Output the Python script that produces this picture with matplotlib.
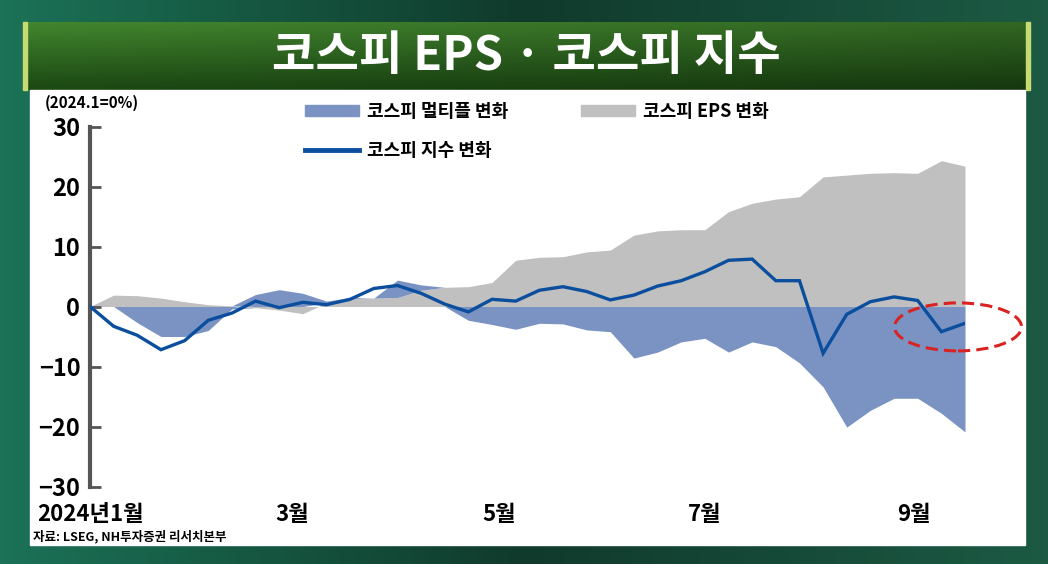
import matplotlib
matplotlib.use('Agg')
import matplotlib.pyplot as plt
import matplotlib.dates as mdates
from matplotlib.patches import Patch, Ellipse, Rectangle
from matplotlib.lines import Line2D
import numpy as np
import pandas as pd

plt.rcParams['font.family'] = ['Noto Sans CJK KR', 'DejaVu Sans']
plt.rcParams['font.weight'] = 'bold'

# weekly readings, 2024.1 = 0%
dates = pd.date_range('2024-01-01', periods=38, freq='7D')
kospi_index = [0, -3.3, -4.8, -7.2, -5.7, -2.3, -1.1, 0.9, -0.2, 0.7,
               0.3, 1.2, 3.0, 3.5, 2.2, 0.4, -0.9, 1.2, 0.9, 2.7,
               3.3, 2.5, 1.1, 1.9, 3.4, 4.3, 5.8, 7.7, 7.9, 4.3,
               4.3, -7.8, -1.3, 0.8, 1.6, 1.0, -4.2, -2.8]
kospi_eps = [0, 1.9, 1.8, 1.4, 0.8, 0.3, 0.1, -0.2, -0.6, -1.2,
             0.6, 1.3, 1.4, 1.5, 2.7, 3.2, 3.3, 4.0, 7.7, 8.2,
             8.3, 9.1, 9.4, 11.9, 12.6, 12.8, 12.8, 15.8, 17.2, 17.9,
             18.3, 21.6, 21.9, 22.2, 22.3, 22.2, 24.3, 23.4]
kospi_multiple = [0, 0, -2.7, -5.0, -5.0, -4.0, -0.4, 2.0, 2.8, 2.2,
                  0.3, 0.2, 0, 2.9, 0.9, 0, -2.3, -3.0, -3.8, -2.8,
                  -2.9, -3.9, -4.2, -8.6, -7.6, -5.9, -5.3, -7.6, -5.9, -6.7,
                  -9.4, -13.4, -20.1, -17.3, -15.3, -15.3, -17.8, -20.9]
month_ticks = ['2024-01-01', '2024-03-01', '2024-05-01', '2024-07-01', '2024-09-01']
month_labels = ['2024년1월', '3월', '5월', '7월', '9월']

W, H = 1048, 564
fig = plt.figure(figsize=(W / 100, H / 100), dpi=100)

# background gradient
bg = fig.add_axes([0, 0, 1, 1], zorder=-10)
gx = np.linspace(0, 1, 300)
left = np.array([0x1b, 0x72, 0x56]) / 255
mid = np.array([0x10, 0x3a, 0x2c]) / 255
right = np.array([0x1c, 0x5a, 0x44]) / 255
row = np.where(gx[:, None] < 0.5,
               left + (mid - left) * (gx[:, None] / 0.5),
               mid + (right - mid) * ((gx[:, None] - 0.5) / 0.5))
bg.imshow(row[None, :, :], aspect='auto', extent=[0, 1, 0, 1])
bg.set_xlim(0, 1)
bg.set_ylim(0, 1)
bg.axis('off')

# title banner
bx0, bx1, by0, by1 = 23 / W, 1030 / W, 1 - 90 / H, 1 - 22 / H
ban = fig.add_axes([bx0, by0, bx1 - bx0, by1 - by0], zorder=-9)
u = np.linspace(0, 1, 200)[None, :, None]
v = np.linspace(0, 1, 60)[:, None, None]
top_c = np.array([0x3f, 0x80, 0x2c]) / 255
bot_c = np.array([0x1a, 0x44, 0x12]) / 255
img = top_c + (bot_c - top_c) * v
img = img * (1.05 - 0.25 * u)
ban.imshow(np.clip(img, 0, 1), aspect='auto', extent=[0, 1, 0, 1])
ban.axis('off')
fig.patches.append(Rectangle((23 / W, by0), 4 / W, by1 - by0, transform=fig.transFigure,
                             color='#c6dc72', zorder=-8))
fig.patches.append(Rectangle((1026 / W, by0), 4 / W, by1 - by0, transform=fig.transFigure,
                             color='#c6dc72', zorder=-8))
fig.text(0.5 * (bx0 + bx1), 1 - 56 / H, '코스피 EPS · 코스피 지수', color='white',
         fontsize=34, fontweight='bold', ha='center', va='center')

# white panel
fig.patches.append(Rectangle((30 / W, 1 - 545 / H), 995 / W, 455 / H, transform=fig.transFigure,
                             color='white', zorder=-8))

ax = fig.add_axes([90 / W, 1 - 486.5 / H, 875 / W, 360 / H])
ax.set_facecolor('none')

eps = np.array(kospi_eps)
mult = np.array(kospi_multiple)
eps_pos, eps_neg = np.clip(eps, 0, None), np.clip(eps, None, 0)
mult_pos, mult_neg = np.clip(mult, 0, None), np.clip(mult, None, 0)

# stacked areas, positive and negative parts stacked separately
ax.fill_between(dates, 0, eps, color='#c0c0c0', linewidth=0, zorder=1)
ax.fill_between(dates, eps_pos, eps_pos + mult_pos, color='#7b93c2', linewidth=0, zorder=2)
ax.fill_between(dates, eps_neg, eps_neg + mult_neg, color='#7b93c2', linewidth=0, zorder=2)
ax.plot(dates, kospi_index, color='#0b4e9e', linewidth=2.4, zorder=3, solid_joinstyle='miter')

ax.set_xlim(dates[0], dates[-1])
ax.set_ylim(-30, 30)
ax.set_yticks([30, 20, 10, 0, -10, -20, -30])
ax.set_yticklabels(['30', '20', '10', '0', '−10', '−20', '−30'])
ax.set_xticks(mdates.date2num(pd.to_datetime(month_ticks)))
ax.set_xticklabels(month_labels)

for s in ['top', 'right', 'bottom']:
    ax.spines[s].set_visible(False)
ax.spines['left'].set_color('#555555')
ax.spines['left'].set_linewidth(3)
ax.tick_params(axis='y', direction='in', length=8, width=2, color='#555555',
               labelsize=17, pad=7)
ax.tick_params(axis='x', length=0, labelsize=16, pad=12)

# red dashed highlight
span = mdates.date2num(dates[-1]) - mdates.date2num(dates[0])
cx = mdates.date2num(dates[0]) + (958 - 90) / 875 * span
wd = 127 / 875 * span
ax.add_patch(Ellipse((cx, -3.4), wd, 8, fill=False, edgecolor='#d92323', linestyle=(0, (4, 2)),
                     linewidth=2.2, clip_on=False, zorder=5))

handles = [Patch(color='#7b93c2'), Line2D([], [], color='#0b4e9e', linewidth=3.5), Patch(color='#c0c0c0')]
labels = ['코스피 멀티플 변화', '코스피 지수 변화', '코스피 EPS 변화']
fig.legend(handles, labels, ncol=2, loc='upper left', bbox_to_anchor=(305 / W, 1 - 102 / H),
           frameon=False, fontsize=13, handlelength=3.0, handleheight=0.6, handletextpad=0.45,
           columnspacing=4.0, labelspacing=1.1, borderpad=0, borderaxespad=0)

fig.text(45 / W, 1 - 103 / H, '(2024.1=0%)', fontsize=11, va='center', ha='left')
fig.text(33 / W, 1 - 537 / H, '자료: LSEG, NH투자증권 리서치본부', fontsize=9, va='center', ha='left')

fig.savefig('out.png', dpi=100)
